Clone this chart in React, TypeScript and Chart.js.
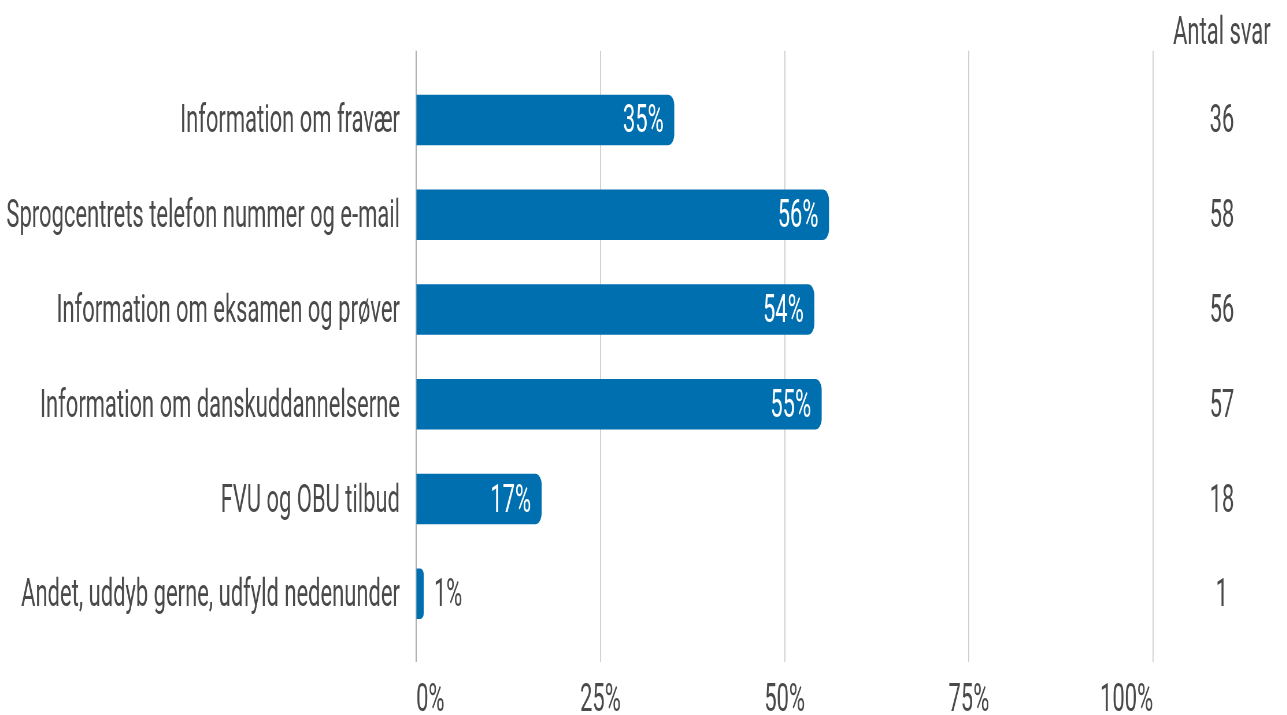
import React, { useEffect, useRef } from 'react';
import { Chart, registerables } from 'chart.js';

Chart.register(...registerables);

const categories = [
  'Information om fravær',
  'Sprogcentrets telefon nummer og e-mail',
  'Information om eksamen og prøver',
  'Information om danskuddannelserne',
  'FVU og OBU tilbud',
  'Andet, uddyb gerne, udfyld nedenunder',
];
const percentages = [35, 56, 54, 55, 17, 1];
const answerCounts = [36, 58, 56, 57, 18, 1];
const xTickStep = 25;
const xMax = 100;
const countHeader = 'Antal svar';

const SX = 0.578;
const W = Math.round(1287 / SX);
const H = 715;
const LEFT = Math.round(416 / SX);
const RIGHT = Math.round(1153 / SX);
const COL = Math.round(1222 / SX) - RIGHT;
const FONT = 'Roboto, "Noto Sans", sans-serif';
const FONT_SIZE = 38;
const TEXT = '#4a4a4a';
const BAR = '#006fb0';
const DY = 3;

const labelsPlugin = {
  id: 'barLabels',
  afterDatasetsDraw(chart: any) {
    const ctx = chart.ctx;
    const meta = chart.getDatasetMeta(0);
    ctx.save();
    ctx.font = `${FONT_SIZE}px ${FONT}`;
    ctx.textBaseline = 'middle';
    meta.data.forEach((bar: any, i: number) => {
      const v = percentages[i];
      const text = `${v}%`;
      if (v >= 10) {
        ctx.fillStyle = '#ffffff';
        ctx.textAlign = 'right';
        ctx.fillText(text, bar.x - 18, bar.y + DY);
      } else {
        ctx.fillStyle = TEXT;
        ctx.textAlign = 'left';
        ctx.fillText(text, bar.x + 18, bar.y + DY);
      }
      ctx.fillStyle = TEXT;
      ctx.textAlign = 'center';
      ctx.fillText(String(answerCounts[i]), chart.chartArea.right + COL, bar.y + DY);
    });
    ctx.fillStyle = TEXT;
    ctx.textAlign = 'center';
    ctx.fillText(countHeader, chart.chartArea.right + COL, chart.chartArea.top - 16);
    ctx.restore();
  },
};

const categoryLabel = (v: any) => {
  const n = Number(v);
  const r = Math.round(n);
  if (Math.abs(n - r) > 1e-6) return '';
  return categories[r] !== undefined ? categories[r] : '';
};

export default function App() {
  const ref = useRef<HTMLCanvasElement>(null);
  useEffect(() => {
    let chart: Chart | null = null;
    let cancelled = false;
    const make = () => {
      if (cancelled || !ref.current) return;
      chart = new Chart(ref.current, {
        type: 'bar',
        data: {
          datasets: [
            {
              data: percentages.map((v, i) => ({ x: v, y: i })) as any,
              backgroundColor: BAR,
              borderRadius: 11,
              barThickness: 50,
            },
          ],
        },
        options: {
          indexAxis: 'y',
          responsive: false,
          animation: false,
          layout: { padding: { top: 48, right: W - RIGHT, bottom: 0, left: 0 } },
          plugins: { legend: { display: false }, tooltip: { enabled: false } },
          scales: {
            y: {
              type: 'linear',
              reverse: true,
              offset: false,
              min: -0.73,
              max: 5.72,
              grid: { display: false, drawTicks: false, offset: false },
              border: { display: false },
              afterFit: (scale: any) => {
                scale.width = LEFT;
              },
              ticks: {
                stepSize: 1,
                includeBounds: false,
                autoSkip: false,
                padding: 28,
                labelOffset: DY,
                color: TEXT,
                font: { family: FONT, size: FONT_SIZE },
                callback: (v: any) => categoryLabel(v),
              },
            },
            x: {
              type: 'linear',
              min: 0,
              max: xMax,
              grid: {
                drawTicks: false,
                lineWidth: 1.8,
                color: (c: any) => (c.tick && c.tick.value === 0 ? '#9a9a9a' : '#cfcfcf'),
              },
              border: { display: false },
              afterFit: (scale: any) => {
                scale.height = 53;
              },
              ticks: {
                stepSize: xTickStep,
                align: 'inner',
                padding: 17,
                color: TEXT,
                font: { family: FONT, size: FONT_SIZE },
                callback: (v: any) => `${v}%`,
              },
            },
          },
        },
        plugins: [labelsPlugin],
      } as any);
    };
    (document as any).fonts?.load
      ? (document as any).fonts.load(`${FONT_SIZE}px Roboto`).then(make, make)
      : make();
    return () => {
      cancelled = true;
      if (chart) chart.destroy();
    };
  }, []);
  return (
    <div
      style={{
        position: 'fixed',
        left: 0,
        top: 0,
        width: 1287,
        height: 715,
        overflow: 'hidden',
        background: '#fff',
      }}
    >
      <div style={{ width: W, height: H, transform: `scaleX(${SX})`, transformOrigin: '0 0' }}>
        <canvas ref={ref} width={W} height={H} style={{ width: W, height: H, display: 'block' }} />
      </div>
    </div>
  );
}
